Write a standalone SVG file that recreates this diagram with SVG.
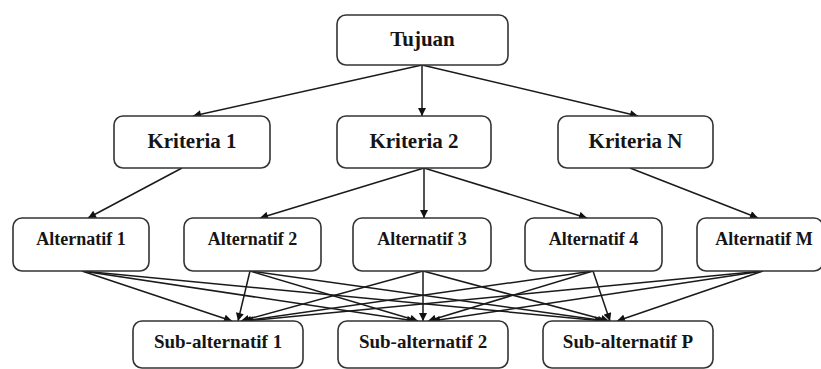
<svg xmlns="http://www.w3.org/2000/svg" width="821" height="369" viewBox="0 0 821 369">
  <style>
    .box { fill: #ffffff; stroke: #333333; stroke-width: 1.6; }
    .t { font-family: "Liberation Serif", "Times New Roman", serif; font-weight: bold; fill: #151515; text-anchor: middle; }
    .l1 { font-size: 21px; }
    .l3 { font-size: 18px; }
    .l4 { font-size: 19px; }
    .edge { stroke: #1a1a1a; stroke-width: 1.5; fill: none; marker-end: url(#arrow); }
  </style>
  <defs>
    <marker id="arrow" viewBox="0 0 10 10" refX="10" refY="5" markerWidth="9" markerHeight="8" markerUnits="userSpaceOnUse" orient="auto">
      <path d="M0,0 L10,5 L0,10 z" fill="#111111"/>
    </marker>
  </defs>
  <rect width="821" height="369" fill="#ffffff"/>

  <g id="connectors">
    <!-- goal to criteria -->
    <line class="edge" x1="422" y1="65" x2="193" y2="116"/>
    <line class="edge" x1="422" y1="65" x2="422" y2="116"/>
    <line class="edge" x1="422" y1="65" x2="638" y2="116"/>
    <!-- criteria to alternatives -->
    <line class="edge" x1="182" y1="168" x2="88" y2="218"/>
    <line class="edge" x1="424" y1="168" x2="260" y2="218"/>
    <line class="edge" x1="424" y1="168" x2="424" y2="218"/>
    <line class="edge" x1="424" y1="168" x2="587" y2="218"/>
    <line class="edge" x1="630" y1="168" x2="758" y2="218"/>
    <!-- alternatives to sub-alternatives -->
    <line class="edge" x1="82" y1="271" x2="232" y2="321"/>
    <line class="edge" x1="82" y1="271" x2="415" y2="321"/>
    <line class="edge" x1="82" y1="271" x2="603" y2="321"/>
    <line class="edge" x1="250" y1="271" x2="238" y2="321"/>
    <line class="edge" x1="250" y1="271" x2="418" y2="321"/>
    <line class="edge" x1="250" y1="271" x2="606" y2="321"/>
    <line class="edge" x1="423" y1="271" x2="241" y2="321"/>
    <line class="edge" x1="423" y1="271" x2="423" y2="321"/>
    <line class="edge" x1="423" y1="271" x2="609" y2="321"/>
    <line class="edge" x1="593" y1="271" x2="243" y2="321"/>
    <line class="edge" x1="593" y1="271" x2="428" y2="321"/>
    <line class="edge" x1="593" y1="271" x2="610" y2="321"/>
    <line class="edge" x1="763" y1="271" x2="245" y2="321"/>
    <line class="edge" x1="763" y1="271" x2="432" y2="321"/>
    <line class="edge" x1="763" y1="271" x2="617" y2="321"/>
  </g>

  <g id="tujuan">
    <rect class="box" x="337" y="15" width="171" height="50" rx="9"/>
    <text class="t l1" x="422.5" y="46">Tujuan</text>
  </g>

  <g id="kriteria-1">
    <rect class="box" x="114" y="116" width="156" height="52" rx="9"/>
    <text class="t l1" x="192" y="148">Kriteria 1</text>
  </g>
  <g id="kriteria-2">
    <rect class="box" x="337" y="116" width="154" height="52" rx="9"/>
    <text class="t l1" x="414" y="148">Kriteria 2</text>
  </g>
  <g id="kriteria-n">
    <rect class="box" x="558" y="116" width="155" height="52" rx="9"/>
    <text class="t l1" x="635.5" y="148">Kriteria N</text>
  </g>

  <g id="alternatif-1">
    <rect class="box" x="13" y="218" width="136" height="53" rx="9"/>
    <text class="t l3" x="81" y="245">Alternatif 1</text>
  </g>
  <g id="alternatif-2">
    <rect class="box" x="184" y="218" width="137" height="53" rx="9"/>
    <text class="t l3" x="252.5" y="245">Alternatif 2</text>
  </g>
  <g id="alternatif-3">
    <rect class="box" x="353" y="218" width="138" height="53" rx="9"/>
    <text class="t l3" x="422" y="245">Alternatif 3</text>
  </g>
  <g id="alternatif-4">
    <rect class="box" x="525" y="218" width="137" height="53" rx="9"/>
    <text class="t l3" x="593.5" y="245">Alternatif 4</text>
  </g>
  <g id="alternatif-m">
    <rect class="box" x="697" y="218" width="126" height="53" rx="9"/>
    <text class="t l3" x="764" y="245">Alternatif M</text>
  </g>

  <g id="sub-alternatif-1">
    <rect class="box" x="133" y="321" width="170" height="47" rx="9"/>
    <text class="t l4" x="218" y="348">Sub-alternatif 1</text>
  </g>
  <g id="sub-alternatif-2">
    <rect class="box" x="338" y="321" width="170" height="47" rx="9"/>
    <text class="t l4" x="423" y="348">Sub-alternatif 2</text>
  </g>
  <g id="sub-alternatif-p">
    <rect class="box" x="543" y="321" width="170" height="47" rx="9"/>
    <text class="t l4" x="628" y="348">Sub-alternatif P</text>
  </g>
</svg>
